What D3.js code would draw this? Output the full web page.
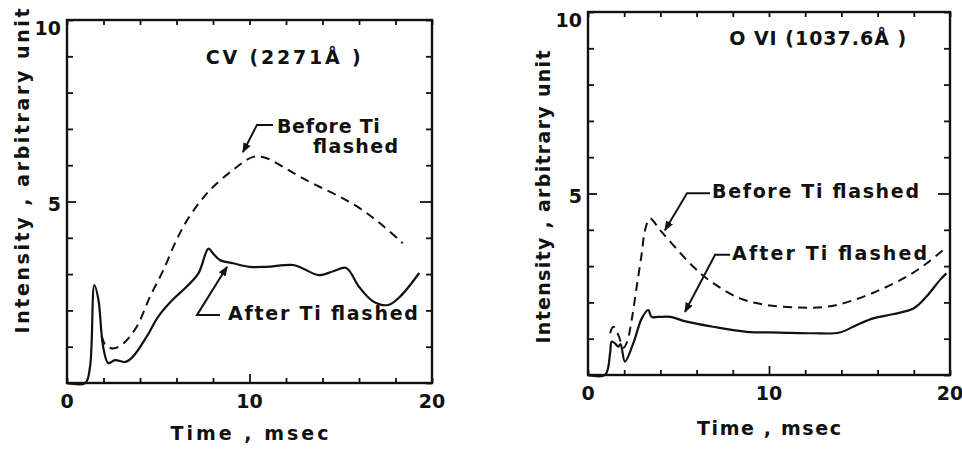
<!DOCTYPE html>
<html lang="en">
<head>
    <meta charset="UTF-8">
    <title>CV and O VI intensity</title>
    <script src="https://cdn.jsdelivr.net/npm/d3@7"></script>
    <style>
        body{ margin:0; background:#fff; }
        .lbl{ font-family:"DejaVu Sans", sans-serif; fill:#111; font-weight:bold; }
    </style>
</head>
<body>
<svg width="962" height="450"></svg>
<script>
    // values: [time ms, intensity]
    const cvAfter = [[0,0],[1.0,0],[1.26,0.44],[1.5,2.7],[1.72,2.3],[1.98,1.0],[2.26,0.55],[2.63,0.63],
        [3.2,0.58],[3.6,0.72],[4.37,1.28],[5.0,1.83],[5.8,2.3],[6.55,2.65],[7.2,3.02],[7.75,3.7],
        [8.0,3.57],[8.4,3.38],[9.1,3.3],[10.0,3.2],[10.9,3.2],[12.4,3.25],[12.9,3.16],[13.8,2.97],
        [14.6,3.08],[15.3,3.17],[16.0,2.65],[16.8,2.24],[17.6,2.15],[18.25,2.38],[19.3,3.03]];
    const cvBefore = [[1.9,1.3],[2.1,1.05],[2.54,0.95],[3.09,1.09],[3.82,1.55],[4.55,2.38],[5.28,3.11],
        [6.0,3.94],[6.6,4.5],[7.3,5.0],[8.0,5.4],[9.1,5.87],[10.2,6.23],[10.95,6.19],[11.85,5.95],
        [12.77,5.68],[13.86,5.4],[14.96,5.13],[16.05,4.81],[17.15,4.4],[18.4,3.85]];
    const oviAfter = [[0,0],[0.94,0],[1.22,0.6],[1.31,0.92],[1.49,0.87],[1.68,0.78],[1.8,0.85],
        [2.04,0.37],[2.5,0.87],[2.97,1.56],[3.33,1.79],[3.51,1.6],[3.88,1.6],[4.53,1.6],[5.45,1.47],
        [6.9,1.33],[8.77,1.19],[10.6,1.17],[12.45,1.15],[13.9,1.17],[14.85,1.38],[15.76,1.56],
        [16.9,1.68],[18.0,1.84],[18.7,2.16],[19.45,2.62],[19.8,2.8]];
    const oviBefore = [[1.22,1.15],[1.4,1.33],[1.68,1.1],[1.95,0.75],[2.15,0.9],[2.41,1.51],[2.69,2.43],
        [2.97,3.35],[3.15,3.99],[3.43,4.31],[3.98,3.99],[4.71,3.58],[5.82,2.98],[6.92,2.53],[8.4,2.11],
        [9.87,1.93],[11.7,1.86],[13.2,1.88],[14.66,2.06],[16.1,2.34],[17.6,2.71],[18.7,3.07],[19.7,3.48]];

    const xTickLabels = [0, 10, 20];
    const yTickLabels = [5, 10];
    const xMinor = d3.range(0, 21, 2);
    const yMinor = d3.range(0, 11, 1);

    const svg = d3.select("svg");
    const defs = svg.append("defs");
    defs.append("marker").attr("id","head")
        .attr("viewBox","0 0 10 10").attr("refX",9).attr("refY",5)
        .attr("markerWidth",10).attr("markerHeight",10).attr("markerUnits","userSpaceOnUse")
        .attr("orient","auto")
        .append("path").attr("d","M0,1 L10,5 L0,9 Z").attr("fill","#111");

    const panels = [
        {box:[67,20,432,383], title:"CV (2271Å )", titleAt:[7.6,8.8], titleLen:155,
         after:cvAfter, before:cvBefore, yLabelX:22, yLabelCY:171, xTitleY:440, xTitleLen:158, yLabelLen:325,
         notes:[
            {lines:[{t:"Before Ti", at:[11.5,6.89], len:103},{t:"flashed", at:[13.48,6.34], len:85}],
             arrow:[[11.29,7.11],[10.41,7.11],[9.64,6.36]]},
            {lines:[{t:"After Ti flashed", at:[8.82,1.74], len:190}],
             arrow:[[8.38,1.87],[7.12,1.87],[8.77,3.2]]}
         ]},
        {box:[588,12,950,375], title:"O VI (1037.6Å )", titleAt:[7.8,9.1], titleLen:177,
         after:oviAfter, before:oviBefore, yLabelX:543, yLabelCY:197, xTitleY:435, xTitleLen:144, yLabelLen:293,
         notes:[
            {lines:[{t:"Before Ti flashed", at:[6.85,4.88], len:207}],
             arrow:[[6.74,5.01],[5.47,5.01],[4.25,3.99]]},
            {lines:[{t:"After Ti flashed", at:[7.96,3.17], len:195}],
             arrow:[[7.85,3.31],[7.02,3.31],[5.36,1.74]]}
         ]}
    ];

    panels.forEach(p => {
        const [x0,y0,x1,y1] = p.box;
        const x = d3.scaleLinear().domain([0,20]).range([x0,x1]);
        const y = d3.scaleLinear().domain([0,10]).range([y1,y0]);
        const g = svg.append("g");

        // frame
        g.append("rect").attr("x",x0).attr("y",y0).attr("width",x1-x0).attr("height",y1-y0)
            .attr("fill","none").attr("stroke","#111").attr("stroke-width",2.4);

        // inward ticks on all four sides
        const tk = (ax, tr) => g.append("g").attr("transform",tr).call(ax)
            .call(s => s.select(".domain").remove())
            .call(s => s.selectAll("line").attr("stroke","#111").attr("stroke-width",1.8));
        tk(d3.axisBottom(x).tickValues(xMinor).tickSize(-5).tickFormat(""), `translate(0,${y1})`)
            .selectAll(".tick line").filter(d => d === 10).attr("y2",-9);
        tk(d3.axisTop(x).tickValues(xMinor).tickSize(-5).tickFormat(""), `translate(0,${y0})`);
        tk(d3.axisLeft(y).tickValues(yMinor).tickSize(-6).tickFormat(""), `translate(${x0},0)`)
            .selectAll(".tick line").filter(d => d === 5).attr("x2",9);
        tk(d3.axisRight(y).tickValues(yMinor).tickSize(-6).tickFormat(""), `translate(${x1},0)`)
            .selectAll(".tick line").filter(d => d === 5).attr("x2",-12);

        // tick labels
        g.selectAll(".xl").data(xTickLabels).join("text").attr("class","lbl")
            .attr("x", d => x(d)).attr("y", y1 + 25).attr("text-anchor","middle")
            .attr("font-size",19).attr("font-weight","normal").text(d => d);
        g.selectAll(".yl").data(yTickLabels).join("text").attr("class","lbl")
            .attr("x", x0 - 6).attr("y", d => y(d) + (d === 10 ? 15 : 9)).attr("text-anchor","end")
            .attr("font-size",19).attr("font-weight","normal").text(d => d);

        // axis titles
        g.append("text").attr("class","lbl").attr("font-size",19)
            .attr("x", x(10) - p.xTitleLen/2).attr("y", p.xTitleY)
            .attr("textLength", p.xTitleLen).attr("lengthAdjust","spacing")
            .text("Time , msec");
        g.append("text").attr("class","lbl").attr("font-size",19)
            .attr("transform", `translate(${p.yLabelX + 7},${p.yLabelCY}) rotate(-90)`)
            .attr("x", -p.yLabelLen/2).attr("textLength", p.yLabelLen).attr("lengthAdjust","spacing")
            .text("Intensity , arbitrary unit");

        // title
        g.append("text").attr("class","lbl").attr("font-size",19)
            .attr("x", x(p.titleAt[0]) ).attr("y", y(p.titleAt[1]))
            .attr("textLength", p.titleLen).attr("lengthAdjust","spacing")
            .text(p.title);

        // curves
        const line = d3.line().x(d => x(d[0])).y(d => y(d[1])).curve(d3.curveCatmullRom.alpha(0.5));
        g.append("path").attr("d", line(p.after)).attr("fill","none")
            .attr("stroke","#111").attr("stroke-width",2.2);
        g.append("path").attr("d", line(p.before)).attr("fill","none")
            .attr("stroke","#111").attr("stroke-width",2).attr("stroke-dasharray","9,6");

        // annotations
        p.notes.forEach(n => {
            n.lines.forEach(l => {
                g.append("text").attr("class","lbl").attr("font-size",19)
                    .attr("x", x(l.at[0])).attr("y", y(l.at[1]))
                    .attr("textLength", l.len).attr("lengthAdjust","spacing")
                    .text(l.t);
            });
            g.append("path").attr("d", d3.line().x(d => x(d[0])).y(d => y(d[1]))(n.arrow))
                .attr("fill","none").attr("stroke","#111").attr("stroke-width",2)
                .attr("marker-end","url(#head)");
        });
    });
</script>
</body>
</html>
